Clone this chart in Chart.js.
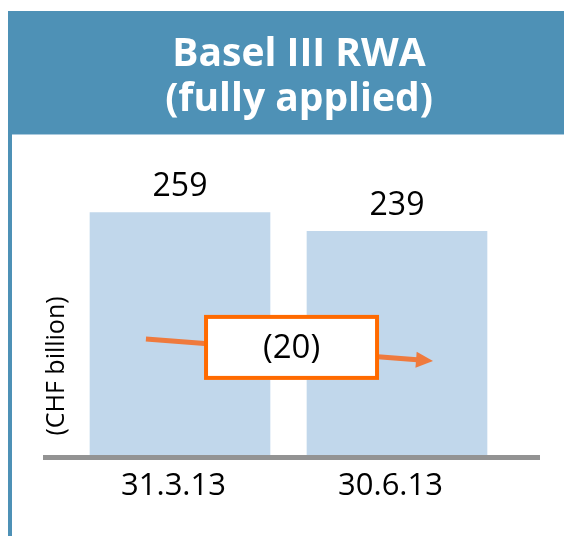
<!DOCTYPE html>
<html><head><meta charset="utf-8">
<script src="https://cdn.jsdelivr.net/npm/chart.js@4"></script>
<style>html,body{margin:0;padding:0;background:#fff;overflow:hidden}canvas{display:block}</style>
</head><body>
<canvas id="c" width="564" height="536"></canvas>
<script>
const categories = ['31.3.13', '30.6.13'];
const rwaValues = [259, 239];
const valueAxisRange = [0, 326];
const titleLines = ['Basel III RWA', '(fully applied)'];
const unitLabel = '(CHF billion)';
const arrowFrom = [-0.157, 124];
const arrowTo = [1.166, 100.5];
const changeBoxAt = [0.514, 115];

const FONT = "'Open Sans', 'Noto Sans', sans-serif";
const BLUE = '#4e91b6';

const decor = {
  id: 'decor',
  beforeDraw(chart) {
    const ctx = chart.ctx;
    ctx.save();
    ctx.fillStyle = '#fff'; ctx.fillRect(0, 0, chart.width, chart.height);
    ctx.fillStyle = BLUE;
    ctx.fillRect(8, 11, chart.width - 8, 123);
    ctx.fillRect(8, 11, 4, chart.height - 11);
    ctx.fillStyle = '#a9c9dd';
    ctx.fillRect(12, 134, chart.width - 12, 1);
    ctx.restore();
  },
  afterDatasetsDraw(chart) {
    const {ctx, chartArea, scales: {x, y}} = chart;
    ctx.save();
    ctx.fillStyle = '#939393';
    const l = chartArea.left - 28.5, r = chartArea.right + 34.5;
    ctx.fillRect(l, chartArea.bottom, r - l, 5);
    const meta = chart.getDatasetMeta(0);
    ctx.font = '32px ' + FONT; ctx.fillStyle = '#000'; ctx.textAlign = 'center'; ctx.textBaseline = 'alphabetic';
    meta.data.forEach((bar, i) => { ctx.fillText(String(rwaValues[i]), bar.x, bar.y - 16.5); });
    ctx.save();
    ctx.translate(57, chartArea.bottom - 89);
    ctx.rotate(-Math.PI / 2);
    ctx.font = '25px ' + FONT; ctx.textBaseline = 'middle'; ctx.textAlign = 'center';
    ctx.fillText(unitLabel, 0, 0);
    ctx.restore();
    const x1 = x.getPixelForValue(arrowFrom[0]), y1 = y.getPixelForValue(arrowFrom[1]);
    const x2 = x.getPixelForValue(arrowTo[0]), y2 = y.getPixelForValue(arrowTo[1]);
    const ang = Math.atan2(y2 - y1, x2 - x1);
    const head = 17, hw = 8;
    const bx = x2 - head * Math.cos(ang), by = y2 - head * Math.sin(ang);
    ctx.strokeStyle = '#ef7a3d'; ctx.lineWidth = 5;
    ctx.beginPath(); ctx.moveTo(x1, y1); ctx.lineTo(bx + 1, by); ctx.stroke();
    ctx.fillStyle = '#ef7a3d';
    ctx.beginPath(); ctx.moveTo(x2, y2);
    ctx.lineTo(bx + hw * Math.sin(ang), by - hw * Math.cos(ang));
    ctx.lineTo(bx - hw * Math.sin(ang), by + hw * Math.cos(ang));
    ctx.closePath(); ctx.fill();
    const cx = x.getPixelForValue(changeBoxAt[0]), cy = y.getPixelForValue(changeBoxAt[1]);
    const w = 171, h = 61;
    ctx.fillStyle = '#fff'; ctx.fillRect(cx - w / 2, cy - h / 2, w, h);
    ctx.strokeStyle = '#ff6a00'; ctx.lineWidth = 4; ctx.strokeRect(cx - w / 2, cy - h / 2, w, h);
    const diff = rwaValues[1] - rwaValues[0];
    const txt = diff < 0 ? '(' + Math.abs(diff) + ')' : String(diff);
    ctx.font = '33px ' + FONT; ctx.fillStyle = '#000'; ctx.textBaseline = 'middle'; ctx.textAlign = 'center';
    ctx.fillText(txt, cx, cy + 1.5);
    ctx.restore();
  }
};

new Chart(document.getElementById('c'), {
  type: 'bar',
  data: {labels: categories, datasets: [{data: rwaValues, backgroundColor: '#c1d7eb', barThickness: 180, borderWidth: 0}]},
  options: {
    responsive: false, animation: false, devicePixelRatio: 1,
    layout: {padding: {left: 34, right: 0, top: 0, bottom: 0}},
    plugins: {
      legend: {display: false}, tooltip: {enabled: false},
      title: {display: true, text: titleLines, color: '#fff',
        font: {family: FONT, size: 39, weight: 'bold', lineHeight: 45 / 39},
        padding: {top: 32.5, bottom: 27.5}}
    },
    scales: {
      x: {grid: {display: false, drawTicks: false}, border: {display: false},
        ticks: {color: '#000', font: {family: FONT, size: 31}, padding: 13, labelOffset: -6.5},
        afterFit(s) { s.height = 81; }},
      y: {type: 'linear', min: valueAxisRange[0], max: valueAxisRange[1], display: true,
        grid: {display: false, drawTicks: false}, border: {display: false}, ticks: {display: false},
        afterFit(s) { s.width = 37.5; }},
      y2: {type: 'linear', position: 'right', display: true,
        grid: {display: false, drawTicks: false}, border: {display: false}, ticks: {display: false},
        afterFit(s) { s.width = 58.5; }}
    }
  },
  plugins: [decor]
});
</script>
</body></html>
